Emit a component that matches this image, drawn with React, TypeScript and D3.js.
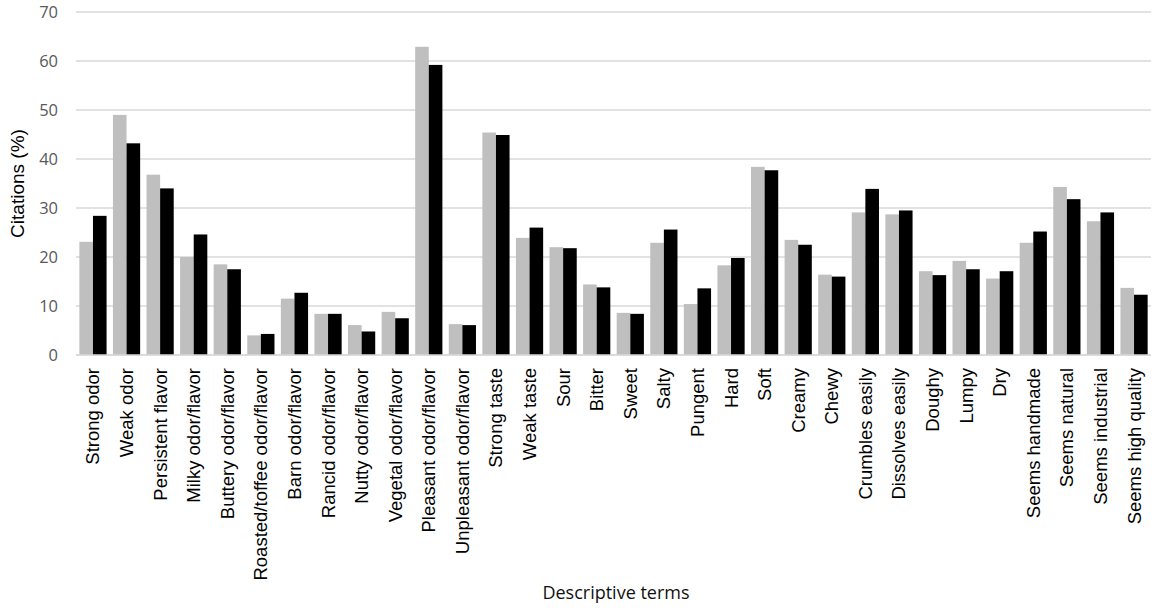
import React, { useEffect, useRef } from 'react';
import * as d3 from 'd3';

const categories = [
  'Strong odor', 'Weak odor', 'Persistent flavor', 'Milky odor/flavor', 'Buttery odor/flavor',
  'Roasted/toffee odor/flavor', 'Barn odor/flavor', 'Rancid odor/flavor', 'Nutty odor/flavor',
  'Vegetal odor/flavor', 'Pleasant odor/flavor', 'Unpleasant odor/flavor', 'Strong taste',
  'Weak taste', 'Sour', 'Bitter', 'Sweet', 'Salty', 'Pungent', 'Hard', 'Soft', 'Creamy', 'Chewy',
  'Crumbles easily', 'Dissolves easily', 'Doughy', 'Lumpy', 'Dry', 'Seems handmade',
  'Seems natural', 'Seems industrial', 'Seems high quality',
];

// grey series
const seriesA = [
  23.1, 49.0, 36.8, 20.0, 18.5, 4.0, 11.5, 8.4, 6.1, 8.8, 62.9, 6.3, 45.4, 23.9, 22.0, 14.4,
  8.6, 22.9, 10.4, 18.3, 38.4, 23.5, 16.4, 29.1, 28.7, 17.1, 19.2, 15.6, 22.9, 34.3, 27.3, 13.7,
];

// black series
const seriesB = [
  28.4, 43.2, 34.0, 24.6, 17.5, 4.3, 12.7, 8.4, 4.8, 7.5, 59.2, 6.1, 44.9, 26.0, 21.8, 13.8,
  8.4, 25.6, 13.6, 19.8, 37.7, 22.5, 16.0, 33.9, 29.5, 16.3, 17.5, 17.1, 25.2, 31.8, 29.1, 12.3,
];

const yTicks = [0, 10, 20, 30, 40, 50, 60, 70];

const width = 1157;
const height = 613;
const margin = { top: 12, right: 6, bottom: 258, left: 76 };

const App = () => {
  const svgRef = useRef<SVGSVGElement>(null);

  useEffect(() => {
    if (!svgRef.current) return;
    const svg = d3.select(svgRef.current);
    svg.selectAll('*').remove();

    const innerW = width - margin.left - margin.right;
    const innerH = height - margin.top - margin.bottom;

    const x = d3.scaleBand<string>().domain(categories).range([0, innerW]).paddingInner(0.19).paddingOuter(0.1);
    const x1 = d3.scaleBand<string>().domain(['a', 'b']).range([0, x.bandwidth()]);
    const y = d3.scaleLinear().domain([0, 70]).range([innerH, 0]);

    const g = svg.append('g').attr('transform', `translate(${margin.left},${margin.top})`);

    // gridlines
    g.append('g')
      .selectAll('line')
      .data(yTicks)
      .enter().append('line')
      .attr('x1', 0)
      .attr('x2', innerW)
      .attr('y1', d => y(d))
      .attr('y2', d => y(d))
      .attr('stroke', '#d9d9d9')
      .attr('stroke-width', 1.5);

    // y tick labels
    g.append('g')
      .selectAll('text')
      .data(yTicks)
      .enter().append('text')
      .attr('x', -18)
      .attr('y', d => y(d))
      .attr('dy', '0.35em')
      .attr('text-anchor', 'end')
      .style('font-family', '"Open Sans", sans-serif')
      .style('font-size', '16.5px')
      .style('fill', '#595959')
      .text(d => d);

    // bars
    const groups = g.append('g')
      .selectAll('g')
      .data(categories)
      .enter().append('g')
      .attr('transform', d => `translate(${x(d)},0)`);

    groups.append('rect')
      .attr('x', x1('a')!)
      .attr('width', x1.bandwidth())
      .attr('y', (d, i) => y(seriesA[i]))
      .attr('height', (d, i) => innerH - y(seriesA[i]))
      .attr('fill', '#bfbfbf');

    groups.append('rect')
      .attr('x', x1('b')!)
      .attr('width', x1.bandwidth())
      .attr('y', (d, i) => y(seriesB[i]))
      .attr('height', (d, i) => innerH - y(seriesB[i]))
      .attr('fill', '#000');

    // baseline
    g.append('line')
      .attr('x1', 0)
      .attr('x2', innerW)
      .attr('y1', innerH)
      .attr('y2', innerH)
      .attr('stroke', '#d9d9d9')
      .attr('stroke-width', 1.5);

    // category labels (rotated)
    g.append('g')
      .selectAll('text')
      .data(categories)
      .enter().append('text')
      .attr('transform', d => `translate(${x(d)! + x.bandwidth() / 2},${innerH + 13}) rotate(-90)`)
      .attr('dy', '0.35em')
      .attr('text-anchor', 'end')
      .style('font-family', '"Liberation Sans", Arial, sans-serif')
      .style('font-size', '18.5px')
      .style('fill', '#000')
      .text(d => d);

    // axis titles
    svg.append('text')
      .attr('transform', `translate(17,${margin.top + innerH / 2}) rotate(-90)`)
      .attr('text-anchor', 'middle')
      .attr('dy', '0.35em')
      .style('font-family', '"Liberation Sans", Arial, sans-serif')
      .style('font-size', '19px')
      .style('fill', '#000')
      .text('Citations (%)');

    svg.append('text')
      .attr('x', 616)
      .attr('y', 599)
      .attr('text-anchor', 'middle')
      .style('font-family', '"Open Sans", sans-serif')
      .style('font-size', '18px')
      .style('fill', '#111')
      .text('Descriptive terms');
  }, []);

  return (
    <div style={{ position: 'absolute', left: 0, top: 0 }}>
      <svg ref={svgRef} width={width} height={height} style={{ display: 'block', background: '#fff' }} />
    </div>
  );
};

export default App;
